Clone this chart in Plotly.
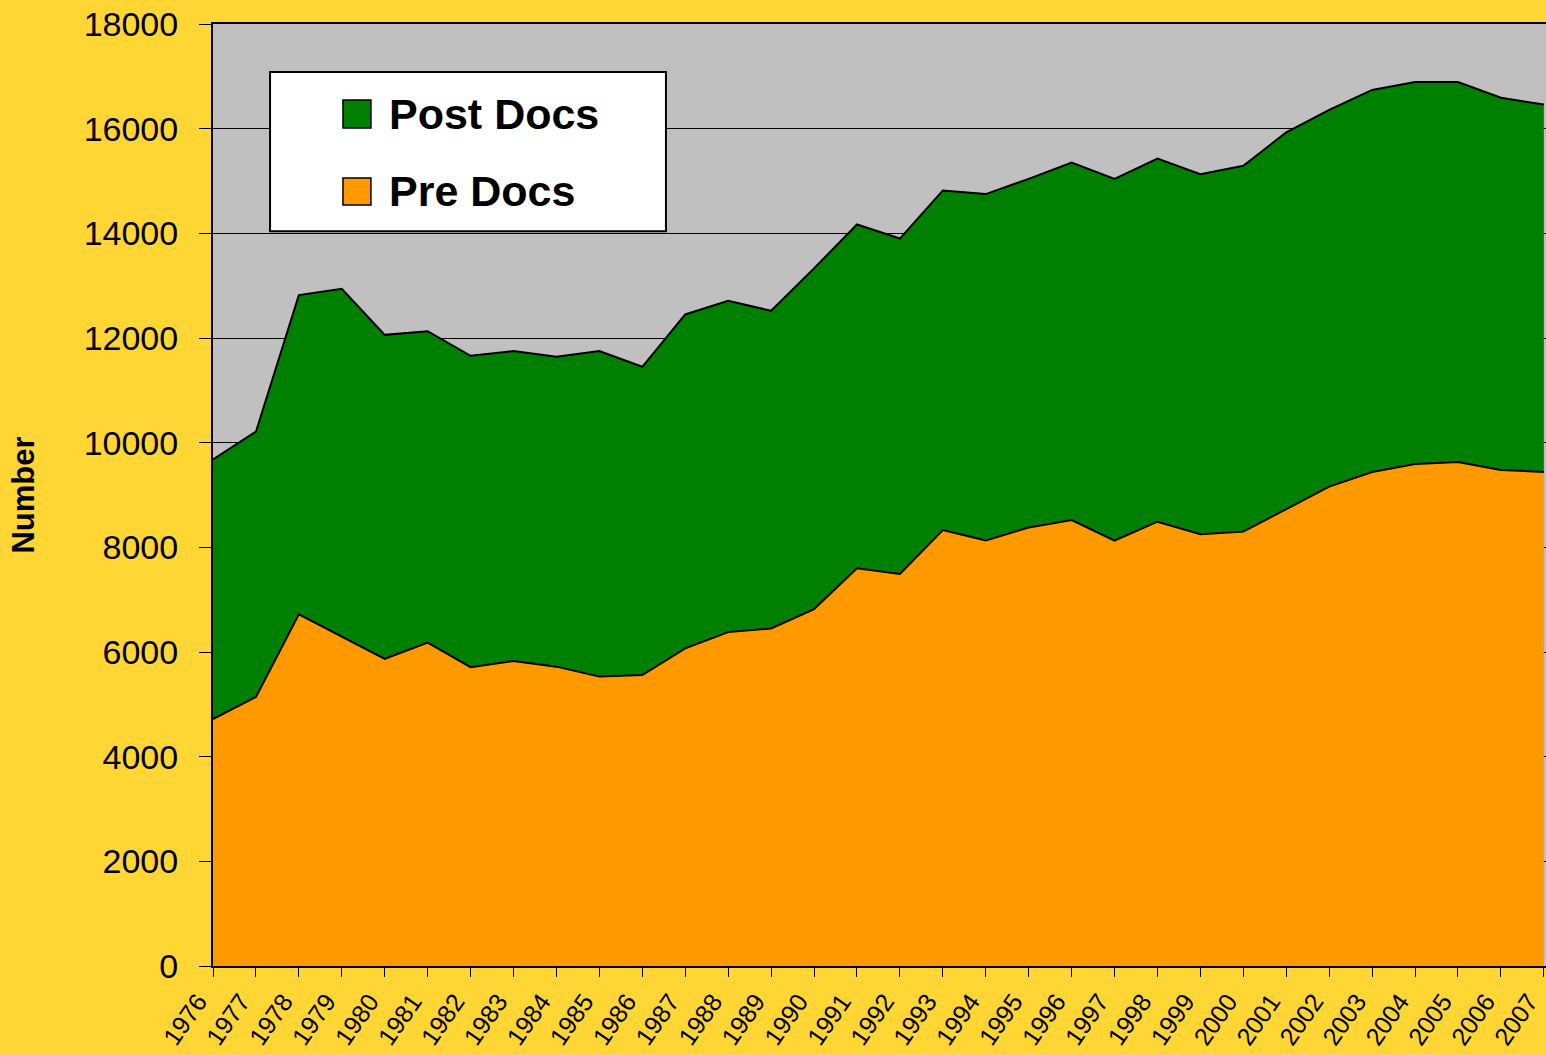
import plotly.graph_objects as go

years = [1976, 1977, 1978, 1979, 1980, 1981, 1982, 1983, 1984, 1985, 1986,
         1987, 1988, 1989, 1990, 1991, 1992, 1993, 1994, 1995, 1996, 1997,
         1998, 1999, 2000, 2001, 2002, 2003, 2004, 2005, 2006, 2007]

pre_docs = [4720, 5140, 6720, 6290, 5870, 6180, 5710, 5830, 5720, 5530, 5560,
            6070, 6380, 6450, 6820, 7600, 7490, 8330, 8130, 8380, 8520, 8130,
            8490, 8250, 8300, 8730, 9160, 9440, 9590, 9630, 9480, 9440]

post_docs = [4960, 5070, 6100, 6650, 6190, 5950, 5950, 5920, 5920, 6220, 5890,
             6380, 6330, 6070, 6510, 6570, 6410, 6490, 6620, 6660, 6830, 6910,
             6940, 6880, 6990, 7200, 7200, 7300, 7300, 7260, 7110, 7020]

series_names = ["Pre Docs", "Post Docs"]
series_colors = ["#FF9900", "#008000"]

yellow = "#FFD633"
font_family = "Liberation Sans, Arial, sans-serif"

fig = go.Figure()

for name, vals, col in zip(series_names, [pre_docs, post_docs], series_colors):
    fig.add_trace(go.Scatter(x=years, y=vals, name=name, mode="lines",
                             stackgroup="one", fillcolor=col,
                             line=dict(color="black", width=2),
                             showlegend=False))

# legend drawn as a boxed key, like the original slide
legend_shapes = [dict(type="rect", xref="paper", yref="paper",
                      x0=0.0428, x1=0.3398, y0=0.780, y1=0.949,
                      fillcolor="white", line=dict(color="black", width=2),
                      layer="above")]
legend_notes = []
key_rows = [("Post Docs", series_colors[1], 0.8896, 0.9193),
            ("Pre Docs", series_colors[0], 0.8079, 0.8365)]
for label, col, y0, y1 in key_rows:
    legend_shapes.append(dict(type="rect", xref="paper", yref="paper",
                              x0=0.0975, x1=0.1185, y0=y0, y1=y1,
                              fillcolor=col, line=dict(color="black", width=1.5),
                              layer="above"))
    legend_notes.append(dict(text="<b>%s</b>" % label, xref="paper", yref="paper",
                             x=0.1303, y=(y0 + y1) / 2, xanchor="left", yanchor="middle",
                             showarrow=False, font=dict(size=43, color="black", family=font_family)))

fig.update_layout(
    width=1546, height=1055,
    margin=dict(l=213, r=0, t=24, b=89),
    paper_bgcolor=yellow,
    plot_bgcolor="#C0C0C0",
    font=dict(family=font_family, color="black"),
    shapes=legend_shapes,
    annotations=legend_notes,
)

fig.update_xaxes(range=[1976, 2007.05], tickvals=years, ticktext=[str(y) for y in years],
                 tickangle=-55, tickfont=dict(size=25), ticks="outside", ticklen=9,
                 ticklabelshift=-15,
                 ticklabeloverflow="allow", automargin=False,
                 tickcolor="black", showline=True, linecolor="black", linewidth=2,
                 mirror=True, showgrid=False, zeroline=False)

fig.update_yaxes(range=[0, 18000], dtick=2000, tickformat="d", tickfont=dict(size=34),
                 ticks="outside", ticklen=12, tickcolor="black", ticklabelstandoff=14,
                 showline=True, linecolor="black", linewidth=2,
                 showgrid=True, gridcolor="black", gridwidth=1, zeroline=False,
                 title=dict(text="<b>Number</b>", font=dict(size=31), standoff=40))

# drop the page's default body margin so the figure fills the window
fig.write_html("out.html", config={"displayModeBar": False},
               post_script="document.body.style.margin='0';document.body.style.background='%s';" % yellow)
